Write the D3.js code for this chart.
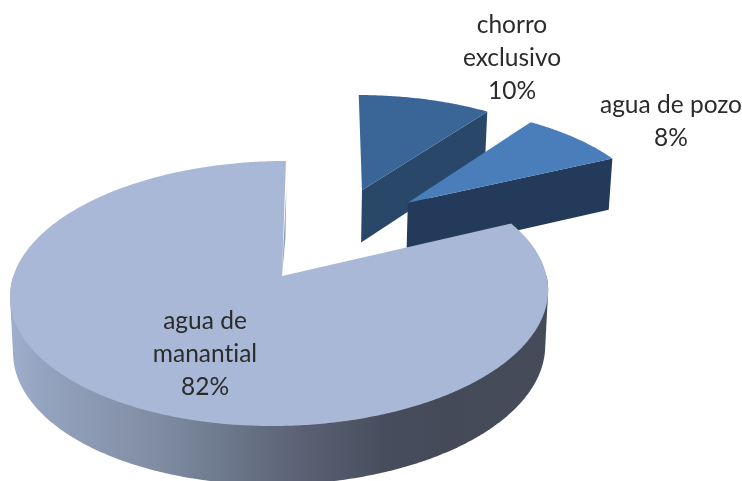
<!DOCTYPE html>
<html lang="es">
<head>
<meta charset="utf-8">
<style>
html,body{margin:0;padding:0;background:#fff;overflow:hidden}
svg{display:block;filter:blur(0.45px)}
text{font-family:Lato,"Open Sans",sans-serif;font-size:24.5px;fill:#2b2b2b;text-anchor:middle;font-variant-ligatures:none}
</style>
</head>
<body>
<svg id="chart" width="742" height="481"></svg>
<script src="https://cdn.jsdelivr.net/npm/d3@7"></script>
<script>
// Data
const categories = ["chorro exclusivo", "agua de pozo", "agua de manantial"];
const values = [10, 8, 82];
const labelLines = [["chorro", "exclusivo"], ["agua de pozo"], ["agua de", "manantial"]];

// Appearance and layout (not data)
const topColors = ["#3a6697", "#4a7ebb", "#a9b8d6"];
const wallColors = ["#284769", "#233a5a", null];
const explode = [[0.311, 0.722], [0.495, 0.607], [0, 0]];
const rimShift = [[0, 0], [0, 0], [-0.0075, 0]];
const sliceRadius = [0.98, 0.98, 1];
const labelAnchors = [[512, 33], [671, 113], [205, 329]];
const lineGap = 33;
const W = 742, H = 481;
const apex = {x: 282, y: 276};
const persp = {a: 266.6, b: 130.2, k: 0.132, s: 6.5, depth: 55, depthFall: 28, narrow: 0.989};

// Disc coordinates -> screen, via a perspective projection
function project(u, v, lower) {
  const w = 1 + persp.k * v;
  let x = (persp.a * u + persp.s * v) / w;
  let y = -persp.b * v / w;
  if (lower) {
    x *= persp.narrow;
    y += persp.depth - persp.depthFall * (w - 1);
  }
  return [apex.x + x, apex.y + y];
}

const svg = d3.select("#chart");
const pie = d3.pie().sort(null).value(d => d).startAngle(0).endAngle(2 * Math.PI);
const arcs = pie(values);
const line = d3.line();

function rim(i, a0, a1, lower) {
  const ex = explode[i][0] + rimShift[i][0], ey = explode[i][1] + rimShift[i][1], r = sliceRadius[i];
  const n = Math.max(2, Math.ceil((a1 - a0) / 0.01));
  return d3.range(n + 1).map(j => {
    const t = a0 + (a1 - a0) * j / n;
    return project(ex + r * Math.sin(t), ey + r * Math.cos(t), lower);
  });
}

// Wall gradient of the large slice
const defs = svg.append("defs");
const grad = defs.append("linearGradient").attr("id", "wall")
  .attr("gradientUnits", "userSpaceOnUse")
  .attr("x1", 10).attr("x2", 548).attr("y1", 0).attr("y2", 0);
[[0, "#9fafcc"], [0.06, "#94a3bf"], [0.25, "#838fa6"], [0.32, "#78859a"], [0.54, "#5a6274"],
 [0.70, "#474d5c"], [0.8, "#444a58"], [1, "#454b58"]].forEach(([o, c]) =>
  grad.append("stop").attr("offset", o).attr("stop-color", c));

const g = svg.append("g");

// Exploded slices: cut face towards the viewer, then top face
[0, 1].forEach(i => {
  const d = arcs[i];
  const c = explode[i];
  const cTop = project(c[0], c[1], false), cLow = project(c[0], c[1], true);
  const eTop = rim(i, d.endAngle, d.endAngle, false)[0];
  const eLow = rim(i, d.endAngle, d.endAngle, true)[0];
  g.append("path").attr("d", line([cTop, eTop, eLow, cLow]) + "Z")
    .attr("fill", wallColors[i]);
  g.append("path").attr("d", line([cTop, ...rim(i, d.startAngle, d.endAngle, false)]) + "Z")
    .attr("fill", topColors[i]);
});

// Large slice: outer wall (hull of the front half of both rims), top face
const big = arcs[2];
const wallHull = d3.polygonHull([
  ...rim(2, Math.PI / 2, 3 * Math.PI / 2, false),
  ...rim(2, Math.PI / 2, 3 * Math.PI / 2, true)
]);
g.append("path").attr("d", line(wallHull) + "Z").attr("fill", "url(#wall)");
g.append("path")
  .attr("d", line([project(0, 0, false), ...rim(2, big.startAngle, big.endAngle, false)]) + "Z")
  .attr("fill", topColors[2]);

// Thin shaded sliver along the closing edge of the large slice
g.append("path")
  .attr("d", line([project(0, 0, false), project(0, 0.75, false), project(0.006, 0.3, false)]) + "Z")
  .attr("fill", "#8d9db8");

// Labels
arcs.forEach((d, i) => {
  const lines = [...labelLines[i], d3.format(".0f")(d.value) + "%"];
  const t = svg.append("text").attr("x", labelAnchors[i][0]).attr("y", labelAnchors[i][1]);
  lines.forEach((s, j) => t.append("tspan")
    .attr("x", labelAnchors[i][0]).attr("dy", j ? lineGap : 0).text(s));
});
</script>
</body>
</html>
